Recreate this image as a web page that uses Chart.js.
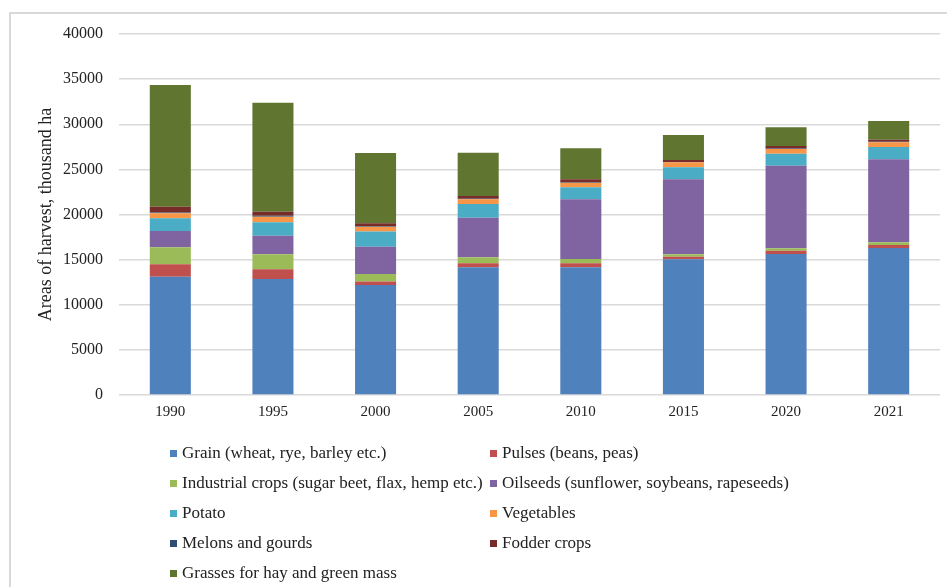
<!DOCTYPE html>
<html>
<head>
<meta charset="utf-8">
<script src="https://cdn.jsdelivr.net/npm/chart.js@4.4.1/dist/chart.umd.min.js"></script>
<style>
  html, body { margin: 0; padding: 0; background: #fff; }
  #wrap { position: relative; width: 947px; height: 587px; overflow: hidden; }
  #frame { position: absolute; left: 9px; top: 12px; width: 960px; height: 600px;
           border-left: 2px solid #d9d9d9; border-top: 2px solid #d9d9d9; box-sizing: border-box; }
  #chart { position: absolute; left: 0; top: 0; }
  #legend { position: absolute; left: 0; top: 0; width: 947px; height: 587px; pointer-events: none;
            font-family: "Liberation Serif", "Times New Roman", serif; font-size: 17px; color: #222; }
  .item { position: absolute; white-space: nowrap; line-height: 20px; }
  .box { position: absolute; width: 7px; height: 7px; }
</style>
</head>
<body>
<div id="wrap">
  <div id="frame"></div>
  <canvas id="chart" width="947" height="587"></canvas>
  <div id="legend"></div>
</div>
<script>
// Areas of harvest by crop group, thousand ha
const years = ['1990', '1995', '2000', '2005', '2010', '2015', '2020', '2021'];

const grain      = [13110, 12850, 12190, 14150, 14150, 15040, 15620, 16290];
const pulses     = [1370, 1080, 400, 440, 440, 280, 370, 330];
const industrial = [1880, 1660, 820, 670, 480, 270, 260, 300];
const oilseeds   = [1810, 2060, 3020, 4390, 6610, 8310, 9160, 9200];
const potato     = [1410, 1480, 1690, 1510, 1330, 1330, 1330, 1360];
const vegetables = [550, 630, 520, 520, 520, 550, 520, 520];
const melons     = [100, 90, 80, 70, 60, 50, 50, 50];
const fodder     = [630, 460, 300, 300, 310, 210, 280, 240];
const grasses    = [13485, 12080, 7800, 4800, 3430, 2770, 2070, 2070];

const seriesNames = [
  'Grain (wheat, rye, barley etc.)',
  'Pulses (beans, peas)',
  'Industrial crops (sugar beet, flax, hemp etc.)',
  'Oilseeds (sunflower, soybeans, rapeseeds)',
  'Potato',
  'Vegetables',
  'Melons and gourds',
  'Fodder crops',
  'Grasses for hay and green mass'
];
const seriesValues = [grain, pulses, industrial, oilseeds, potato, vegetables, melons, fodder, grasses];
const seriesColors = ['#4f81bd', '#c0504d', '#9bbb59', '#8064a2', '#4bacc6', '#f79646', '#2c4d75', '#772c2a', '#5f7530'];

const yTicks = { min: 0, max: 40000, step: 5000 };

const serif = '"Liberation Serif", "Times New Roman", serif';

new Chart(document.getElementById('chart'), {
  type: 'bar',
  data: {
    labels: years,
    datasets: seriesNames.map((name, i) => ({
      label: name,
      data: seriesValues[i],
      backgroundColor: seriesColors[i],
      borderWidth: 0,
      barPercentage: 0.4,
      categoryPercentage: 1.0
    }))
  },
  options: {
    responsive: false,
    animation: false,
    layout: { padding: { left: 0, right: 7, top: 34, bottom: 0 } },
    plugins: {
      legend: { display: false },
      tooltip: { enabled: false }
    },
    scales: {
      x: {
        stacked: true,
        grid: { display: false, drawTicks: false },
        border: { display: false },
        ticks: { color: '#222', padding: 8, font: { family: serif, size: 15 } },
        afterFit: (s) => { s.height = 192; }
      },
      y: {
        stacked: true,
        min: yTicks.min,
        max: yTicks.max,
        ticks: {
          stepSize: yTicks.step,
          color: '#222',
          padding: 16,
          font: { family: serif, size: 16 },
          callback: (v) => String(v)
        },
        grid: { color: '#d9d9d9', lineWidth: 1.5, drawTicks: false },
        border: { display: false },
        title: {
          display: true,
          text: 'Areas of harvest, thousand ha',
          color: '#222',
          font: { family: serif, size: 18 },
          padding: { top: 35, bottom: 0 }
        },
        afterFit: (s) => { s.width = 119; }
      }
    }
  }
});

// Two-column legend below the plot
const legend = document.getElementById('legend');
const colX = [[170, 182], [490, 502]];
seriesNames.forEach((name, i) => {
  const col = i % 2;
  const row = Math.floor(i / 2);
  const cy = 453 + row * 30;
  const box = document.createElement('div');
  box.className = 'box';
  box.style.left = colX[col][0] + 'px';
  box.style.top = (cy - 3) + 'px';
  box.style.background = seriesColors[i];
  legend.appendChild(box);
  const t = document.createElement('div');
  t.className = 'item';
  t.style.left = colX[col][1] + 'px';
  t.style.top = (cy - 10) + 'px';
  t.textContent = name;
  legend.appendChild(t);
});
</script>
</body>
</html>
